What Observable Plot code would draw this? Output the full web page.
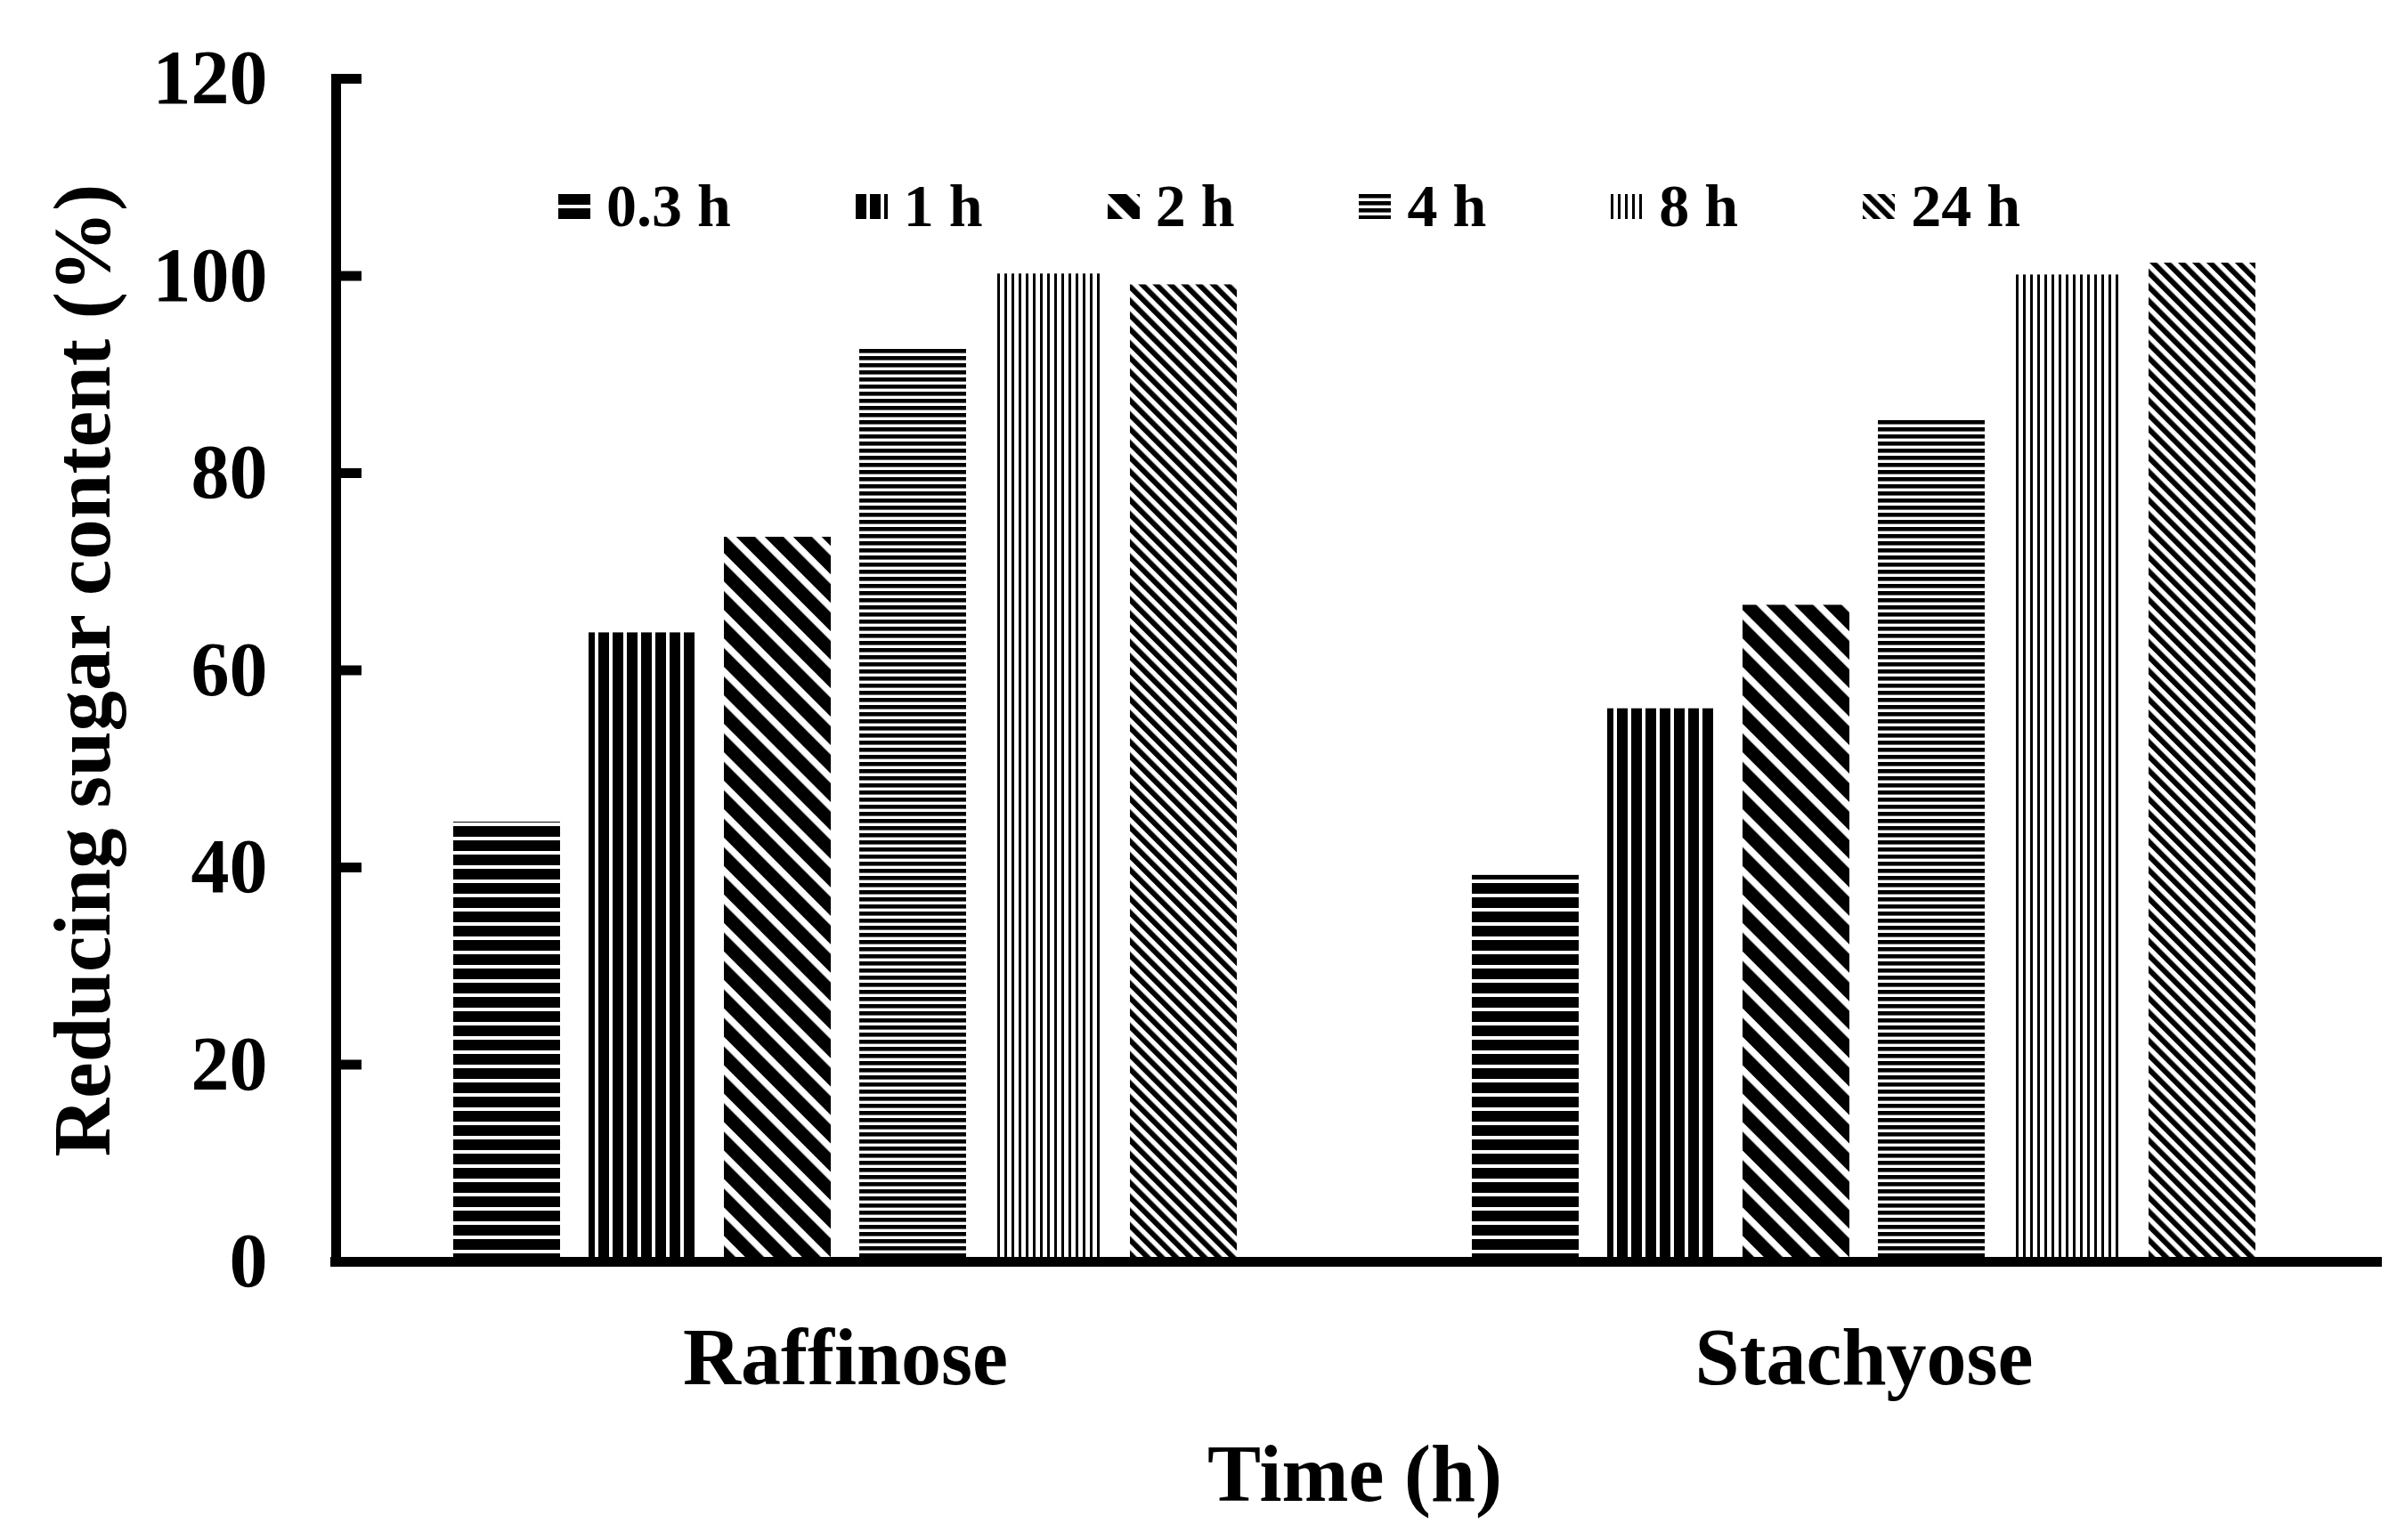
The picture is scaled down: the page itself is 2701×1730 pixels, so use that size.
<!DOCTYPE html>
<html>
<head>
<meta charset="utf-8">
<script src="https://cdn.jsdelivr.net/npm/d3@7"></script>
<script src="https://cdn.jsdelivr.net/npm/@observablehq/plot@0.6"></script>
<style>
  html, body { margin: 0; padding: 0; background: #fff; }
  #wrap { position: relative; width: 2701px; height: 1730px; }
  #legend { position: absolute; left: 627px; top: 194px; }
  #legend .lg-swatches { margin: 0 !important; }
  #legend .lg-swatch { margin-right: 140px !important; }
  #legend .lg-swatch > svg { margin-right: 18px !important; }
</style>
</head>
<body>
<div id="wrap"><div id="legend"></div></div>
<script>
// ---- data ----
const sugars = ["Raffinose", "Stachyose"];
const times = ["0.3 h", "1 h", "2 h", "4 h", "8 h", "24 h"];
const raffinose = [44.6, 63.8, 73.5, 92.7, 100.2, 99.1];
const stachyose = [39.2, 56.1, 66.6, 85.5, 100.1, 101.3];
const yTicks = [0, 20, 40, 60, 80, 100, 120];

// ---- hatch styles (one per time) ----
const patterns = [
  {id: "pat0", angle: 90, period: 16, ink: 12},
  {id: "pat1", angle: 0, period: 16, ink: 12},
  {id: "pat2", angle: -45, period: 22.6, ink: 15},
  {id: "pat3", angle: 90, period: 8, ink: 4.6},
  {id: "pat4", angle: 0, period: 8, ink: 3},
  {id: "pat5", angle: -45, period: 11.3, ink: 6}
];

const rows = sugars.flatMap((s, si) =>
  times.map((t, ti) => ({sugar: s, time: t, value: (si === 0 ? raffinose : stachyose)[ti]}))
);

const font = "'Liberation Serif', 'Times New Roman', serif";

const chart = Plot.plot({
  width: 2701,
  height: 1730,
  marginLeft: 377,
  marginRight: 36,
  marginTop: 88,
  marginBottom: 313,
  style: {fontFamily: font, fontWeight: "bold", color: "#000", background: "#fff", overflow: "visible"},
  facet: {data: rows, x: "sugar"},
  fx: {domain: sugars, padding: 0},
  x: {domain: times, paddingInner: 0.2105, paddingOuter: 0.8684, axis: null},
  y: {domain: [0, 120]},
  marks: [
    ...times.map((t, i) => Plot.barY(rows, {
      filter: d => d.time === t,
      x: "time",
      y: "value",
      fill: `url(#${patterns[i].id})`
    })),
    Plot.ruleY([0], {strokeWidth: 11, insetLeft: -6, insetRight: -10}),
    Plot.frame({anchor: "left", facetAnchor: "left", strokeWidth: 11, strokeLinecap: "square"}),
    Plot.axisY(yTicks, {
      anchor: "left",
      tickSize: 29,
      dx: 29,
      tickPadding: 77,
      strokeWidth: 11,
      fontSize: 86,
      label: null
    }),
    Plot.axisY(yTicks, {
      anchor: "left",
      tickSize: 0,
      dx: 29,
      tickFormat: () => "",
      fontSize: 91,
      label: "Reducing sugar content (%)",
      labelAnchor: "center",
      labelOffset: 319,
      labelArrow: "none"
    }),
    Plot.axisFx({
      anchor: "bottom",
      tickSize: 0,
      tickPadding: 74,
      fontSize: 90,
      label: "Time (h)",
      labelAnchor: "center",
      labelOffset: 268,
      labelArrow: "none"
    })
  ]
});

const defs = patterns.map(p =>
  `<pattern id="${p.id}" patternUnits="userSpaceOnUse" width="${p.period}" height="${p.period}" patternTransform="rotate(${p.angle})">` +
  `<rect width="${p.period}" height="${p.period}" fill="#fff"/>` +
  `<rect width="${p.ink}" height="${p.period}" fill="#000"/></pattern>`
).join("");
d3.select(chart).insert("defs", ":first-child").html(defs);

document.getElementById("wrap").insertBefore(chart, document.getElementById("legend"));

const legend = Plot.legend({
  color: {type: "ordinal", domain: times, range: patterns.map(p => `url(#${p.id})`)},
  legend: "swatches",
  swatchWidth: 36,
  swatchHeight: 28,
  className: "lg",
  style: {fontFamily: font, fontSize: "68px", fontWeight: "bold", color: "#000", lineHeight: "75px", background: "transparent"}
});
document.getElementById("legend").appendChild(legend);
</script>
</body>
</html>
